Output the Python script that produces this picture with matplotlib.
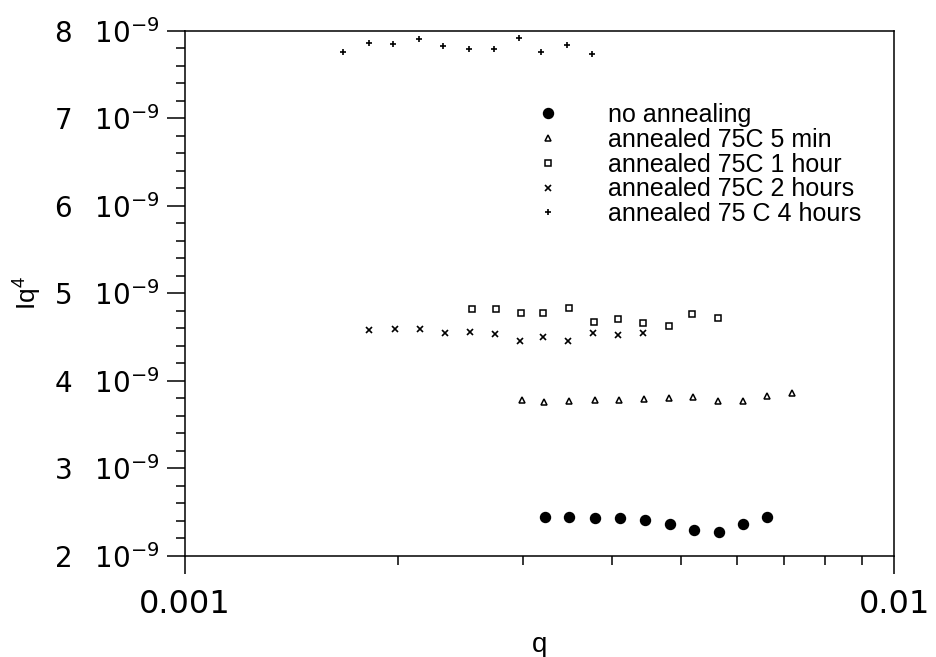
import matplotlib
matplotlib.use('Agg')
import matplotlib.pyplot as plt
from matplotlib.ticker import FixedLocator, FuncFormatter, LogLocator, NullFormatter

# q values (units of 1e-3) and Iq^4 values (units of 1e-9) for each sample
q_none = [3.220, 3.483, 3.784, 4.107, 4.455, 4.831, 5.223, 5.658, 6.129, 6.614]
iq4_none = [2.446, 2.442, 2.434, 2.431, 2.411, 2.366, 2.290, 2.271, 2.359, 2.442]

q_5min = [2.985, 3.213, 3.480, 3.787, 4.094, 4.440, 4.821, 5.211, 5.652, 6.117, 6.614, 7.171]
iq4_5min = [3.779, 3.760, 3.768, 3.779, 3.783, 3.791, 3.806, 3.810, 3.771, 3.765, 3.829, 3.856]

q_1h = [2.537, 2.743, 2.977, 3.196, 3.480, 3.779, 4.076, 4.429, 4.816, 5.184, 5.640]
iq4_1h = [4.819, 4.816, 4.777, 4.770, 4.827, 4.674, 4.702, 4.659, 4.625, 4.759, 4.713]

q_2h = [1.820, 1.978, 2.146, 2.327, 2.523, 2.734, 2.968, 3.196, 3.473, 3.766, 4.076, 4.421]
iq4_2h = [4.579, 4.587, 4.591, 4.542, 4.553, 4.534, 4.450, 4.503, 4.457, 4.542, 4.526, 4.542]

q_4h = [1.669, 1.818, 1.966, 2.141, 2.309, 2.518, 2.725, 2.956, 3.178, 3.458, 3.753]
iq4_4h = [7.760, 7.856, 7.851, 7.900, 7.829, 7.787, 7.787, 7.920, 7.757, 7.837, 7.737]

labels = ['no annealing', 'annealed 75C 5 min', 'annealed 75C 1 hour',
          'annealed 75C 2 hours', 'annealed 75 C 4 hours']
y_ticks = [2, 3, 4, 5, 6, 7, 8]

plt.rcParams['font.family'] = 'Liberation Sans'
plt.rcParams['mathtext.fontset'] = 'custom'
plt.rcParams['mathtext.rm'] = 'Liberation Sans'
plt.rcParams['mathtext.it'] = 'Liberation Sans'
plt.rcParams['mathtext.sf'] = 'DejaVu Sans'

fig = plt.figure(figsize=(9.36, 6.57), dpi=100)
ax = fig.add_axes([0.1976, 0.1542, 0.7577, 0.7991])


def scale(qs, ys):
    return [v * 1e-3 for v in qs], [v * 1e-9 for v in ys]


x, y = scale(q_none, iq4_none)
ax.plot(x, y, 'o', ms=7.2, color='black', label=labels[0])
x, y = scale(q_5min, iq4_5min)
ax.plot(x, y, '^', ms=3.8, mfc='white', mec='black', mew=1.1, label=labels[1])
x, y = scale(q_1h, iq4_1h)
ax.plot(x, y, 's', ms=3.8, mfc='white', mec='black', mew=1.1, label=labels[2])
x, y = scale(q_2h, iq4_2h)
ax.plot(x, y, 'x', ms=4.5, color='black', mew=1.2, label=labels[3])
x, y = scale(q_4h, iq4_4h)
ax.plot(x, y, '+', ms=4.8, color='black', mew=1.2, label=labels[4])

ax.set_xscale('log')
ax.set_xlim(0.001, 0.01)
ax.set_ylim(2e-9, 8e-9)

# ticks: decades on x, 1e-9 steps on y, outward only on left/bottom
ax.xaxis.set_major_locator(FixedLocator([0.001, 0.01]))
ax.xaxis.set_major_formatter(FuncFormatter(lambda v, p: '0.001' if v < 0.005 else '0.01'))
ax.xaxis.set_minor_locator(LogLocator(base=10, subs=range(2, 10)))
ax.xaxis.set_minor_formatter(NullFormatter())

ax.yaxis.set_major_locator(FixedLocator([t * 1e-9 for t in y_ticks]))
ax.yaxis.set_minor_locator(FixedLocator([(2 + 0.2 * i) * 1e-9 for i in range(31)]))
ax.yaxis.set_major_formatter(
    FuncFormatter(lambda v, p: r'$\mathsf{%d\ \ \ 10^{-9}}$' % round(v * 1e9)))

ax.tick_params(which='both', direction='out', top=False, right=False, width=1.1, color='black')
ax.tick_params(which='major', length=13)
ax.tick_params(which='minor', length=6.3)
ax.tick_params(axis='y', which='major', pad=5.5, labelsize=20)
ax.tick_params(axis='x', which='major', pad=11, labelsize=23)
for t in ax.get_xticklabels():
    t.set_fontfamily('DejaVu Sans')

for sp in ax.spines.values():
    sp.set_linewidth(1.1)

ax.set_xlabel('q', fontsize=20)
ax.xaxis.set_label_coords(0.5, -0.145)
ax.set_ylabel(r'$\mathregular{Iq^4}$', fontsize=19)
ax.yaxis.set_label_coords(-0.199, 0.5)

ax.legend(loc='upper left', bbox_to_anchor=(0.4767, 0.862), frameon=False,
          fontsize=18, borderpad=0, borderaxespad=0, handlelength=2.0,
          handletextpad=1.4, labelspacing=0.03, numpoints=1)

fig.savefig('out.png', dpi=100)
